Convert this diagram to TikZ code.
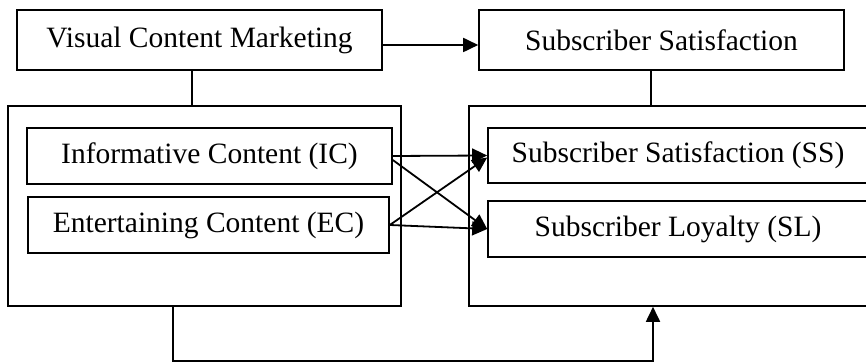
\documentclass[tikz,border=0pt]{standalone}
\usepackage{fontspec}
\setmainfont{Liberation Serif}
\usetikzlibrary{arrows.meta}

\begin{document}
\begin{tikzpicture}[x=0.5pt, y=-0.5pt,
    box/.style={draw, line width=0.8pt, inner sep=0pt, align=center,
        font=\fontsize{14.75}{17}\selectfont},
    frame/.style={draw, line width=0.8pt, inner sep=0pt},
    link/.style={line width=0.9pt},
    arr/.style={line width=0.9pt, -{Triangle[length=7.5pt, width=7pt]}}]
    \useasboundingbox (0,0) rectangle (866,362);
    \clip (0,0) rectangle (866,362);

    % Outer frames
    \node[frame, minimum width=196.5pt, minimum height=100pt] (LF) at (204.5,206) {};
    \node[frame, minimum width=215.5pt, minimum height=100pt] (RF) at (684.5,206) {};

    % Top boxes
    \node[box, minimum width=182.5pt, minimum height=30pt] (VCM) at (199.5,40) {Visual Content Marketing};
    \node[box, minimum width=182.5pt, minimum height=30pt] (SST) at (661.5,40) {Subscriber Satisfaction};

    % Inner boxes
    \node[box, minimum width=182.5pt, minimum height=28pt] (IC) at (209.5,156) {Informative Content (IC)};
    \node[box, minimum width=180.5pt, minimum height=28pt] (EC) at (208.5,225) {Entertaining Content (EC)};
    \node[box, minimum width=190pt, minimum height=27.5pt] (SS) at (678,155.5) {Subscriber Satisfaction (SS)};
    \node[box, minimum width=190pt, minimum height=28pt] (SL) at (678,229) {Subscriber Loyalty (SL)};

    % Links from top boxes to frames
    \coordinate (VL) at (192,70);
    \coordinate (VR) at (651,70);
    \draw[link] (VL) -- (VL |- LF.north);
    \draw[link] (VR) -- (VR |- RF.north);
    \draw[arr] ([yshift=-2.5pt]VCM.east) -- ([yshift=-2.5pt]SST.west);

    % Crossing arrows
    \draw[arr] (IC.east) -- (SS.west);
    \draw[arr] ([yshift=-2pt]IC.east) -- (SL.west);
    \draw[arr] (EC.east) -- ([yshift=-1pt]SS.west);
    \draw[arr] (EC.east) -- (SL.west);

    % Bottom loop
    \coordinate (BL) at (173,361);
    \coordinate (BR) at (653,361);
    \draw[arr] (BL |- LF.south) -- (BL) -- (BR) -- (BR |- RF.south);
\end{tikzpicture}
\end{document}
